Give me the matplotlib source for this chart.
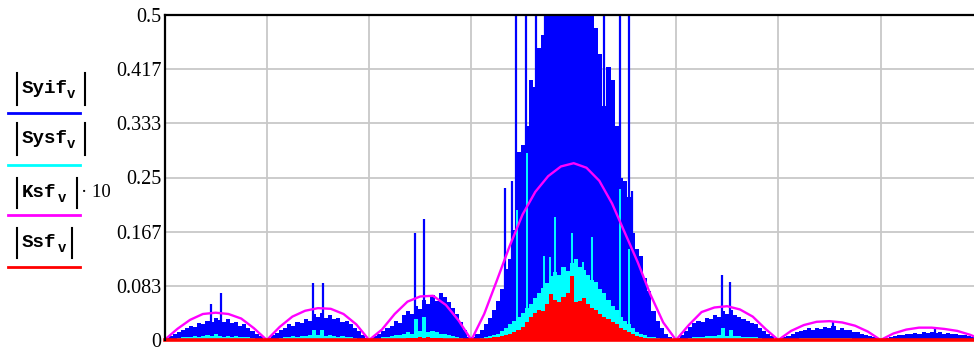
import numpy as np
import matplotlib.pyplot as plt
from matplotlib.lines import Line2D

# spectrum values, one per 0.04 of a grid division (25 per lobe)
syif_lobes = [
    [0.003, 0.006, 0.009, 0.012, 0.016, 0.018, 0.022, 0.020, 0.026, 0.024, 0.030, 0.028, 0.034,
     0.031, 0.028, 0.032, 0.026, 0.027, 0.022, 0.024, 0.018, 0.014, 0.010, 0.006, 0.002],
    [0.003, 0.007, 0.011, 0.015, 0.018, 0.024, 0.022, 0.028, 0.026, 0.033, 0.030, 0.040, 0.036,
     0.042, 0.034, 0.038, 0.032, 0.034, 0.028, 0.030, 0.024, 0.018, 0.014, 0.008, 0.003],
    [0.003, 0.006, 0.010, 0.014, 0.018, 0.022, 0.030, 0.026, 0.038, 0.044, 0.040, 0.052, 0.048,
     0.062, 0.056, 0.070, 0.060, 0.072, 0.066, 0.058, 0.050, 0.040, 0.028, 0.016, 0.005],
    [0.004, 0.010, 0.016, 0.024, 0.034, 0.046, 0.060, 0.078, 0.110, 0.125, 0.170, 0.290, 0.300,
     0.330, 0.400, 0.390, 0.450, 0.470, 0.600, 0.600, 0.600, 0.600, 0.600, 0.600, 0.600],
    [0.600, 0.600, 0.600, 0.600, 0.600, 0.480, 0.440, 0.360, 0.420, 0.400, 0.330, 0.250, 0.245,
     0.220, 0.165, 0.140, 0.130, 0.095, 0.075, 0.045, 0.030, 0.018, 0.010, 0.005, 0.002],
    [0.003, 0.008, 0.014, 0.020, 0.026, 0.030, 0.028, 0.034, 0.032, 0.038, 0.036, 0.044, 0.040,
     0.046, 0.038, 0.036, 0.032, 0.030, 0.026, 0.024, 0.018, 0.014, 0.010, 0.006, 0.002],
    [0.002, 0.004, 0.006, 0.009, 0.012, 0.014, 0.016, 0.018, 0.015, 0.019, 0.017, 0.020, 0.018,
     0.021, 0.016, 0.018, 0.015, 0.016, 0.013, 0.012, 0.010, 0.008, 0.006, 0.004, 0.002],
    [0.001, 0.003, 0.004, 0.006, 0.007, 0.008, 0.009, 0.010, 0.011, 0.010, 0.012, 0.011, 0.012,
     0.011, 0.012, 0.010, 0.011, 0.009, 0.010, 0.008, 0.007, 0.006, 0.004, 0.003, 0.001],
]
sysf_lobes = [
    [0, 0.001, 0.002, 0.003, 0.004, 0.005, 0.005, 0.006, 0.005, 0.006, 0.008, 0.006, 0.010,
     0.006, 0.005, 0.006, 0.005, 0.006, 0.005, 0.004, 0.004, 0.003, 0.002, 0.001, 0],
    [0, 0.001, 0.002, 0.003, 0.004, 0.005, 0.006, 0.005, 0.006, 0.006, 0.008, 0.016, 0.007,
     0.016, 0.006, 0.007, 0.006, 0.005, 0.006, 0.005, 0.004, 0.003, 0.002, 0.001, 0],
    [0, 0.001, 0.002, 0.004, 0.005, 0.006, 0.008, 0.008, 0.010, 0.012, 0.010, 0.032, 0.014,
     0.036, 0.012, 0.014, 0.012, 0.010, 0.010, 0.008, 0.006, 0.004, 0.003, 0.002, 0],
    [0.001, 0.002, 0.003, 0.004, 0.006, 0.008, 0.010, 0.014, 0.018, 0.024, 0.030, 0.036, 0.042,
     0.050, 0.056, 0.064, 0.072, 0.080, 0.088, 0.098, 0.104, 0.100, 0.112, 0.106, 0.118],
    [0.124, 0.112, 0.108, 0.100, 0.092, 0.090, 0.078, 0.072, 0.062, 0.052, 0.046, 0.036, 0.030,
     0.024, 0.018, 0.012, 0.010, 0.007, 0.005, 0.004, 0.003, 0.002, 0.002, 0.001, 0.001],
    [0, 0.001, 0.002, 0.003, 0.004, 0.005, 0.005, 0.006, 0.006, 0.006, 0.007, 0.018, 0.006,
     0.016, 0.006, 0.006, 0.005, 0.005, 0.004, 0.004, 0.003, 0.002, 0.001, 0.001, 0],
    [0, 0.001, 0.001, 0.002, 0.002, 0.003, 0.003, 0.003, 0.003, 0.003, 0.003, 0.003, 0.003,
     0.003, 0.003, 0.003, 0.003, 0.003, 0.002, 0.002, 0.002, 0.001, 0.001, 0, 0],
    [0, 0, 0.001, 0.001, 0.001, 0.002, 0.002, 0.002, 0.002, 0.002, 0.002, 0.002, 0.002,
     0.002, 0.002, 0.002, 0.002, 0.002, 0.002, 0.001, 0.001, 0.001, 0.001, 0, 0],
]
ssf_lobes = [
    [0] * 25,
    [0] * 25,
    [0, 0, 0, 0.001, 0.001, 0.001, 0.002, 0.002, 0.002, 0.003, 0.003, 0.003, 0.004,
     0.003, 0.004, 0.003, 0.003, 0.003, 0.002, 0.002, 0.002, 0.001, 0.001, 0, 0],
    [0, 0.001, 0.001, 0.002, 0.003, 0.004, 0.005, 0.006, 0.008, 0.010, 0.012, 0.016, 0.020,
     0.028, 0.036, 0.042, 0.046, 0.044, 0.056, 0.070, 0.062, 0.058, 0.066, 0.072, 0.098],
    [0.058, 0.060, 0.064, 0.056, 0.050, 0.046, 0.040, 0.036, 0.032, 0.028, 0.024, 0.018, 0.015,
     0.012, 0.009, 0.006, 0.004, 0.003, 0.002, 0.001, 0, 0, 0, 0, 0],
    [0] * 25,
    [0] * 25,
    [0] * 25,
]

# isolated tall lines
syif_spike_x = [0.45, 0.55, 1.45, 1.55, 2.45, 2.54, 3.33, 3.40, 3.44, 3.53, 3.63, 3.72,
                4.30, 4.45, 4.54, 4.57, 5.45, 5.53, 6.53, 7.53]
syif_spike_y = [0.055, 0.073, 0.087, 0.087, 0.164, 0.186, 0.234, 0.244, 0.6, 0.6, 0.6, 0.6,
                0.6, 0.6, 0.6, 0.23, 0.100, 0.089, 0.027, 0.020]
sysf_spike_x = [3.45, 3.54, 3.71, 3.77, 3.82, 3.98, 4.09, 4.18, 4.45, 4.54]
sysf_spike_y = [0.200, 0.287, 0.130, 0.128, 0.190, 0.164, 0.120, 0.159, 0.233, 0.140]

# |Ksf|*10 envelope, read every 1/8 division
ksf_x = np.arange(0, 8.001, 0.125)
ksf_y = [0, 0.017, 0.031, 0.040, 0.042, 0.040, 0.033, 0.018,
         0, 0.020, 0.036, 0.045, 0.049, 0.048, 0.040, 0.024,
         0, 0.016, 0.040, 0.059, 0.067, 0.068, 0.054, 0.030,
         0, 0.040, 0.092, 0.145, 0.193, 0.228, 0.252, 0.267,
         0.272, 0.265, 0.245, 0.210, 0.165, 0.120, 0.070, 0.027,
         0, 0.023, 0.043, 0.050, 0.052, 0.047, 0.036, 0.017,
         0, 0.014, 0.023, 0.028, 0.029, 0.027, 0.022, 0.013,
         0, 0.010, 0.016, 0.019, 0.019, 0.017, 0.014, 0.008, 0]

ytick_labels = ["0", "0.083", "0.167", "0.25", "0.333", "0.417", "0.5"]

W, H = 974, 347
fig = plt.figure(figsize=(W / 100, H / 100), dpi=100)
ax = fig.add_axes([164.5 / W, 7 / H, (W - 164.5) / W, 325 / H])

x = 0.02 + 0.04 * np.arange(200)
syif = np.concatenate(syif_lobes)
sysf = np.concatenate(sysf_lobes)
ssf = np.concatenate(ssf_lobes)

ax.fill_between(x, 0, syif, step='mid', color='#0000ff', lw=0, zorder=2)
ax.vlines(syif_spike_x, 0, syif_spike_y, color='#0000ff', lw=1.6, zorder=2)
ax.fill_between(x, 0, sysf, step='mid', color='#00ffff', lw=0, zorder=3)
ax.vlines(sysf_spike_x, 0, sysf_spike_y, color='#00ffff', lw=1.4, zorder=3)
ax.fill_between(x, 0, ssf, step='mid', color='#ff0000', lw=0, zorder=4)
ax.plot([0, 8], [0, 0], color='#ff0000', lw=2.6, zorder=6, clip_on=False)
ax.plot(ksf_x, ksf_y, color='#ff00ff', lw=1.7, zorder=5)

ax.set_xlim(0, (W - 164.5) / 102.3)
ax.set_ylim(0, 0.5)
ax.set_xticks(range(1, 8))
ax.set_xticklabels([])
ax.set_yticks(np.linspace(0, 0.5, 7))
ax.set_yticklabels(ytick_labels, family='Liberation Serif', fontsize=14.5)
ax.tick_params(length=0, pad=2)
ax.grid(True, color='#c8c8c8', lw=1.3)
ax.set_axisbelow(True)
for s in ['right', 'bottom']:
    ax.spines[s].set_visible(False)
for s in ['left', 'top']:
    ax.spines[s].set_linewidth(1.6)
    ax.spines[s].set_zorder(7)


# legend, Mathcad style
def fx(px):
    return px / W


def fy(py):
    return 1 - py / H


legend = [
    ("Syif", 73, 105, 93, 67, 85, '#0000ff', 113, ""),
    ("Sysf", 123, 155, 143, 67, 85, '#00ffff', 165, ""),
    ("Ksf", 178, 208, 197, 58, 77, '#ff00ff', 215, "\u00b7 10"),
    ("Ssf", 228, 258, 247, 58, 72, '#ff0000', 267, ""),
]
for name, top, bot, base, vx, rbar, col, ly, extra in legend:
    fig.text(fx(22), fy(base), name, family='Liberation Mono', weight='bold',
             fontsize=13.8, va='baseline', ha='left')
    fig.text(fx(vx), fy(base + 5), "v", family='Liberation Mono', weight='bold',
             fontsize=10, va='baseline', ha='left')
    for bx in (17, rbar):
        fig.add_artist(Line2D([fx(bx), fx(bx)], [fy(top), fy(bot)], color='black', lw=1.5))
    if extra:
        fig.text(fx(rbar + 4), fy(base), extra, family='Liberation Serif',
                 fontsize=13.5, va='baseline', ha='left')
    fig.add_artist(Line2D([fx(8), fx(80)], [fy(ly), fy(ly)], color=col, lw=2))

fig.savefig('out.png', dpi=100)
